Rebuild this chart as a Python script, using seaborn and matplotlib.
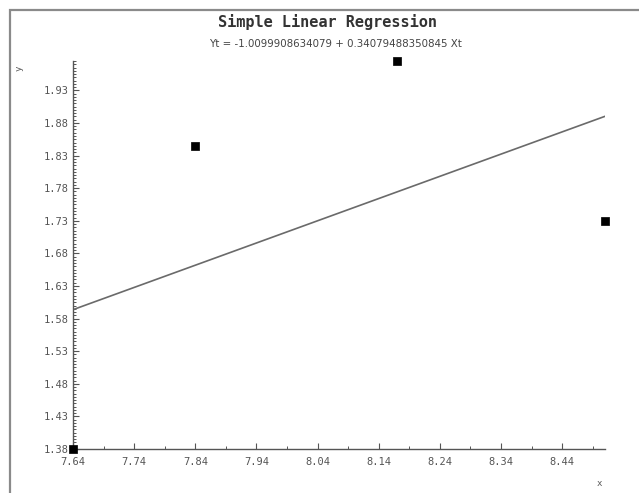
import numpy as np
import pandas as pd
import matplotlib
matplotlib.use('Agg')
import matplotlib.pyplot as plt
from matplotlib.patches import Rectangle
from matplotlib.ticker import MultipleLocator, FixedLocator
import seaborn as sns

# Data
x_values = [7.64, 7.84, 8.17, 8.51]
y_values = [1.38, 1.845, 1.975, 1.73]
intercept = -1.0099908634079
slope = 0.34079488350845

title = 'Simple Linear Regression'
subtitle = 'Yt = -1.0099908634079 + 0.34079488350845 Xt'
x_ticks = [7.64, 7.74, 7.84, 7.94, 8.04, 8.14, 8.24, 8.34, 8.44]
y_ticks = [1.38, 1.43, 1.48, 1.53, 1.58, 1.63, 1.68, 1.73, 1.78, 1.83, 1.88, 1.93]

sns.set_style('ticks')
plt.rcParams['font.family'] = ['DejaVu Sans']

df = pd.DataFrame({'x': x_values, 'y': y_values})
x_min, x_max = min(x_values), max(x_values)
fit = pd.DataFrame({'x': [x_min, x_max]})
fit['y'] = intercept + slope * fit['x']

fig = plt.figure(figsize=(6.39, 4.93), dpi=100)
W, H = 639, 493
ax = fig.add_axes([73 / W, 1 - 449 / H, (605 - 73) / W, (449 - 61) / H])

sns.lineplot(data=fit, x='x', y='y', ax=ax, color='#6a6a6a', linewidth=1.2)
sns.scatterplot(data=df, x='x', y='y', ax=ax, marker='s', s=40,
                color='black', edgecolor='black', clip_on=False, zorder=5)

ax.set_xlim(x_min, x_max)
ax.set_ylim(min(y_values), max(y_values))

ax.xaxis.set_major_locator(FixedLocator(x_ticks))
ax.xaxis.set_minor_locator(FixedLocator([t + 0.05 for t in x_ticks]))
ax.yaxis.set_major_locator(FixedLocator(y_ticks))
ax.yaxis.set_minor_locator(MultipleLocator(0.005))
ax.set_xticklabels([f'{t:.2f}' for t in x_ticks], family='DejaVu Sans Mono')
ax.set_yticklabels([f'{t:.2f}' for t in y_ticks], family='DejaVu Sans Mono')

ax.tick_params(axis='both', which='major', direction='in', length=4,
               width=0.8, color='#555555', labelsize=7.5, labelcolor='#555555', pad=3)
ax.tick_params(axis='both', which='minor', direction='in', length=2,
               width=0.7, color='#555555')
ax.tick_params(axis='x', which='major', pad=6)

sns.despine(ax=ax)
for side in ['left', 'bottom']:
    ax.spines[side].set_color('#555555')
    ax.spines[side].set_linewidth(1.0)

ax.set_xlabel('')
ax.set_ylabel('')
fig.text(19 / W, 1 - 68 / H, 'y', rotation=90, fontsize=6.5, color='#555555',
         ha='center', va='center', family='DejaVu Sans Mono')
fig.text(599 / W, 1 - 483 / H, 'x', fontsize=6.5, color='#555555',
         ha='center', va='center', family='DejaVu Sans Mono')

fig.text(328 / W, 1 - 22 / H, title, fontsize=11, fontweight='bold',
         color='#333333', ha='center', va='center', family='DejaVu Sans Mono')
fig.text(335 / W, 1 - 44 / H, subtitle, fontsize=7.4, color='#444444',
         ha='center', va='center')

# outer frame (top and left edges visible)
fig.patches.append(Rectangle((10 / W, -0.1), 1.2, 1 - 10 / H + 0.1,
                             transform=fig.transFigure, fill=False,
                             edgecolor='#8a8a8a', linewidth=1.6))

fig.savefig('out.png', dpi=100)
